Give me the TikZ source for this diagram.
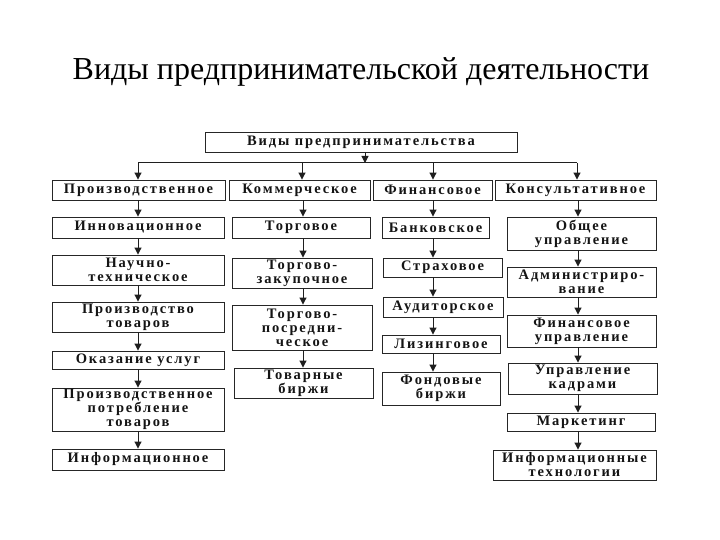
\documentclass[tikz,border=0pt]{standalone}
\usepackage{fontspec}
\setmainfont{Liberation Serif}
\newfontfamily\boxfont[LetterSpace=13]{Liberation Serif}
\usetikzlibrary{arrows.meta}
\tikzset{
  bx/.style={draw=black!85, line width=0.9pt, inner sep=0pt, align=center,
    font=\boxfont\bfseries\fontsize{14.5}{14}\selectfont, text=black!92},
  arr/.style={line width=1pt, draw=black!88, -{Triangle[length=7pt,width=7pt]}},
  ln/.style={line width=1pt, draw=black!88},
}
\newcommand\bx[6]{\node[bx, minimum width={(#4)-(#2)}, minimum height={(#5)-(#3)}] (#1) at ({(#2+#4)/2},{(#3+#5)/2}) {#6};}
\begin{document}
\begin{tikzpicture}[x=1pt,y=-1pt]
\useasboundingbox[fill=white] (0,0) rectangle (720,540);
\node[font=\fontsize{32}{36}\selectfont, anchor=base] (title) at (361,80) {Виды предпринимательской деятельности};

\bx{top}{205}{132}{517}{152}{Виды предпринимательства}

% level 1
\bx{p1}{52}{180}{225}{200}{Производственное}
\bx{k1}{229}{180}{370}{200}{Коммерческое}
\bx{f1}{373}{180}{492}{200}{Финансовое}
\bx{s1}{495}{180}{656}{200}{Консультативное}

% column 1
\bx{p2}{52}{217}{224}{238}{Инновационное}
\bx{p3}{52}{255}{224}{285}{Научно-\\техническое}
\bx{p4}{52}{302}{224}{332}{Производство\\товаров}
\bx{p5}{52}{351}{224}{369}{Оказание услуг}
\bx{p6}{52}{388}{224}{431}{Производственное\\потребление\\товаров}
\bx{p7}{52}{449}{224}{470}{Информационное}

% column 2
\bx{k2}{232}{217}{370}{238}{Торговое}
\bx{k3}{232}{258}{372}{288}{Торгово-\\закупочное}
\bx{k4}{232}{305}{372}{350}{Торгово-\\посредни-\\ческое}
\bx{k5}{234}{368}{373}{398}{Товарные\\биржи}

% column 3
\bx{f2}{382}{217}{489}{238}{Банковское}
\bx{f3}{383}{258}{502}{277}{Страховое}
\bx{f4}{383}{297}{503}{317}{Аудиторское}
\bx{f5}{382}{335}{500}{353}{Лизинговое}
\bx{f6}{382}{372}{500}{405}{Фондовые\\биржи}

% column 4
\bx{s2}{507}{217}{656}{250}{Общее\\управление}
\bx{s3}{507}{267}{656}{297}{Администриро-\\вание}
\bx{s4}{507}{315}{656}{347}{Финансовое\\управление}
\bx{s5}{508}{363}{657}{394}{Управление\\кадрами}
\bx{s6}{507}{413}{655}{431}{Маркетинг}
\bx{s7}{493}{450}{656}{480}{Информационные\\технологии}

% connectors
\coordinate (tm) at (365,163);
\coordinate (c1) at (138,163);
\coordinate (c2) at (302,163);
\coordinate (c3) at (433,163);
\coordinate (c4) at (577,163);
\draw[arr] (top.south -| tm) -- (tm);
\draw[ln] (c1) -- (c4);
\draw[arr] (c1) -- (p1.north -| c1);
\draw[arr] (c2) -- (k1.north -| c2);
\draw[arr] (c3) -- (f1.north -| c3);
\draw[arr] (c4) -- (s1.north -| c4);

\foreach \a/\b in {p1/p2,p2/p3,p3/p4,p4/p5,p5/p6,p6/p7}
  \draw[arr] (\a.south -| c1) -- (\b.north -| c1);
\coordinate (d2) at (303,0);
\foreach \a/\b in {k1/k2,k2/k3,k3/k4,k4/k5}
  \draw[arr] (\a.south -| d2) -- (\b.north -| d2);
\foreach \a/\b in {f1/f2,f2/f3,f3/f4,f4/f5,f5/f6}
  \draw[arr] (\a.south -| c3) -- (\b.north -| c3);
\coordinate (d4) at (578,0);
\foreach \a/\b in {s1/s2,s2/s3,s3/s4,s4/s5,s5/s6,s6/s7}
  \draw[arr] (\a.south -| d4) -- (\b.north -| d4);
\end{tikzpicture}
\end{document}
